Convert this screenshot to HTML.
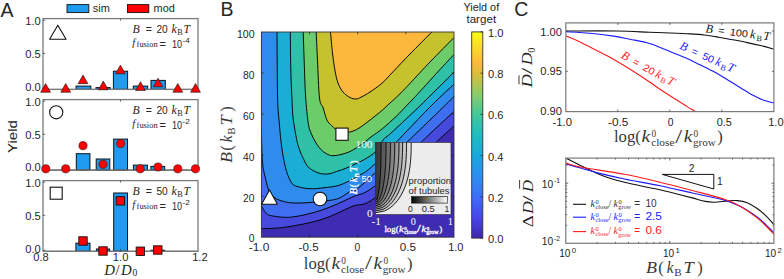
<!DOCTYPE html>
<html><head><meta charset="utf-8"><style>
html,body{margin:0;padding:0;background:#fff;width:784px;height:279px;overflow:hidden}
svg{display:block}
</style></head><body>
<svg width="784" height="279" viewBox="0 0 784 279">
<rect x="0" y="0" width="784" height="279" fill="#fff"/>
<text x="0.50" y="17.00" font-family='"Liberation Sans", sans-serif' font-size="19.50" fill="#262626" text-anchor="start" >A</text>
<rect x="67.00" y="4.60" width="21.80" height="8.00" fill="#1f9bf0" stroke="#111" stroke-width="0.90" />
<text x="92.80" y="11.90" font-family='"Liberation Sans", sans-serif' font-size="10.30" fill="#262626" text-anchor="start" textLength="17.00" lengthAdjust="spacingAndGlyphs" >sim</text>
<rect x="127.40" y="4.60" width="21.40" height="8.00" fill="#ff0000" stroke="#111" stroke-width="0.90" />
<text x="153.60" y="11.90" font-family='"Liberation Sans", sans-serif' font-size="10.30" fill="#262626" text-anchor="start" textLength="21.20" lengthAdjust="spacingAndGlyphs" >mod</text>
<rect x="76.10" y="86.10" width="14.70" height="3.30" fill="#1f9bf0" stroke="#111" stroke-width="1.00" />
<rect x="96.00" y="87.60" width="14.20" height="1.80" fill="#1f9bf0" stroke="#111" stroke-width="1.00" />
<rect x="113.40" y="71.20" width="14.20" height="18.20" fill="#1f9bf0" stroke="#111" stroke-width="1.00" />
<rect x="133.30" y="86.10" width="14.40" height="3.30" fill="#1f9bf0" stroke="#111" stroke-width="1.00" />
<rect x="151.00" y="80.40" width="14.30" height="9.00" fill="#1f9bf0" stroke="#111" stroke-width="1.00" />
<line x1="43.00" y1="89.40" x2="198.00" y2="89.40" stroke="#333" stroke-width="1.00" />
<rect x="43.00" y="18.60" width="155.00" height="70.80" fill="none" stroke="#7a7a7a" stroke-width="1.30" />
<line x1="43.00" y1="20.20" x2="45.20" y2="20.20" stroke="#444" stroke-width="0.80" />
<line x1="43.00" y1="53.40" x2="45.20" y2="53.40" stroke="#444" stroke-width="0.80" />
<line x1="43.00" y1="88.40" x2="45.20" y2="88.40" stroke="#444" stroke-width="0.80" />
<text x="25.30" y="24.50" font-family='"Liberation Sans", sans-serif' font-size="10.30" fill="#262626" text-anchor="start" textLength="15.50" lengthAdjust="spacingAndGlyphs" >1.0</text>
<text x="25.30" y="58.20" font-family='"Liberation Sans", sans-serif' font-size="10.30" fill="#262626" text-anchor="start" textLength="15.50" lengthAdjust="spacingAndGlyphs" >0.5</text>
<text x="25.30" y="90.70" font-family='"Liberation Sans", sans-serif' font-size="10.30" fill="#262626" text-anchor="start" textLength="15.50" lengthAdjust="spacingAndGlyphs" >0.0</text>
<line x1="120.50" y1="18.60" x2="120.50" y2="20.60" stroke="#444" stroke-width="0.80" />
<rect x="76.30" y="153.70" width="13.60" height="16.40" fill="#1f9bf0" stroke="#111" stroke-width="1.00" />
<rect x="96.20" y="159.00" width="13.60" height="11.10" fill="#1f9bf0" stroke="#111" stroke-width="1.00" />
<rect x="113.70" y="139.10" width="13.80" height="31.00" fill="#1f9bf0" stroke="#111" stroke-width="1.00" />
<rect x="133.40" y="165.10" width="14.00" height="5.00" fill="#1f9bf0" stroke="#111" stroke-width="1.00" />
<rect x="150.90" y="166.40" width="13.80" height="3.70" fill="#1f9bf0" stroke="#111" stroke-width="1.00" />
<line x1="43.00" y1="170.10" x2="198.00" y2="170.10" stroke="#333" stroke-width="1.00" />
<rect x="43.00" y="99.60" width="155.00" height="70.50" fill="none" stroke="#7a7a7a" stroke-width="1.30" />
<line x1="43.00" y1="101.20" x2="45.20" y2="101.20" stroke="#444" stroke-width="0.80" />
<line x1="43.00" y1="134.25" x2="45.20" y2="134.25" stroke="#444" stroke-width="0.80" />
<line x1="43.00" y1="169.10" x2="45.20" y2="169.10" stroke="#444" stroke-width="0.80" />
<text x="25.30" y="105.50" font-family='"Liberation Sans", sans-serif' font-size="10.30" fill="#262626" text-anchor="start" textLength="15.50" lengthAdjust="spacingAndGlyphs" >1.0</text>
<text x="25.30" y="139.05" font-family='"Liberation Sans", sans-serif' font-size="10.30" fill="#262626" text-anchor="start" textLength="15.50" lengthAdjust="spacingAndGlyphs" >0.5</text>
<text x="25.30" y="171.40" font-family='"Liberation Sans", sans-serif' font-size="10.30" fill="#262626" text-anchor="start" textLength="15.50" lengthAdjust="spacingAndGlyphs" >0.0</text>
<line x1="120.50" y1="99.60" x2="120.50" y2="101.60" stroke="#444" stroke-width="0.80" />
<rect x="75.90" y="243.20" width="14.10" height="8.10" fill="#1f9bf0" stroke="#111" stroke-width="1.00" />
<rect x="96.40" y="249.00" width="13.20" height="2.30" fill="#1f9bf0" stroke="#111" stroke-width="1.00" />
<rect x="113.70" y="193.00" width="13.80" height="58.30" fill="#1f9bf0" stroke="#111" stroke-width="1.00" />
<rect x="133.40" y="251.30" width="14.00" height="0.00" fill="#1f9bf0" stroke="#111" stroke-width="1.00" />
<rect x="150.90" y="250.20" width="13.80" height="1.10" fill="#1f9bf0" stroke="#111" stroke-width="1.00" />
<line x1="43.00" y1="251.30" x2="198.00" y2="251.30" stroke="#333" stroke-width="1.00" />
<rect x="43.00" y="180.60" width="155.00" height="70.70" fill="none" stroke="#7a7a7a" stroke-width="1.30" />
<line x1="43.00" y1="182.20" x2="45.20" y2="182.20" stroke="#444" stroke-width="0.80" />
<line x1="43.00" y1="215.35" x2="45.20" y2="215.35" stroke="#444" stroke-width="0.80" />
<line x1="43.00" y1="250.30" x2="45.20" y2="250.30" stroke="#444" stroke-width="0.80" />
<text x="25.30" y="186.50" font-family='"Liberation Sans", sans-serif' font-size="10.30" fill="#262626" text-anchor="start" textLength="15.50" lengthAdjust="spacingAndGlyphs" >1.0</text>
<text x="25.30" y="220.15" font-family='"Liberation Sans", sans-serif' font-size="10.30" fill="#262626" text-anchor="start" textLength="15.50" lengthAdjust="spacingAndGlyphs" >0.5</text>
<text x="25.30" y="252.60" font-family='"Liberation Sans", sans-serif' font-size="10.30" fill="#262626" text-anchor="start" textLength="15.50" lengthAdjust="spacingAndGlyphs" >0.0</text>
<line x1="120.50" y1="180.60" x2="120.50" y2="182.60" stroke="#444" stroke-width="0.80" />
<path d="M45.60,83.60 L40.70,92.20 L50.50,92.20 Z" fill="#ff0000" stroke="#222" stroke-width="0.70" stroke-linejoin="round" />
<path d="M65.70,83.60 L60.80,92.20 L70.60,92.20 Z" fill="#ff0000" stroke="#222" stroke-width="0.70" stroke-linejoin="round" />
<path d="M83.00,75.05 L78.10,83.65 L87.90,83.65 Z" fill="#ff0000" stroke="#222" stroke-width="0.70" stroke-linejoin="round" />
<path d="M103.30,81.10 L98.40,89.70 L108.20,89.70 Z" fill="#ff0000" stroke="#222" stroke-width="0.70" stroke-linejoin="round" />
<path d="M120.40,65.20 L115.50,73.80 L125.30,73.80 Z" fill="#ff0000" stroke="#222" stroke-width="0.70" stroke-linejoin="round" />
<path d="M140.50,81.80 L135.60,90.40 L145.40,90.40 Z" fill="#ff0000" stroke="#222" stroke-width="0.70" stroke-linejoin="round" />
<path d="M158.00,78.20 L153.10,86.80 L162.90,86.80 Z" fill="#ff0000" stroke="#222" stroke-width="0.70" stroke-linejoin="round" />
<path d="M177.80,83.60 L172.90,92.20 L182.70,92.20 Z" fill="#ff0000" stroke="#222" stroke-width="0.70" stroke-linejoin="round" />
<path d="M195.50,83.60 L190.60,92.20 L200.40,92.20 Z" fill="#ff0000" stroke="#222" stroke-width="0.70" stroke-linejoin="round" />
<circle cx="45.80" cy="168.80" r="4.1" fill="#ff0000" stroke="#222" stroke-width="0.6"/>
<circle cx="65.70" cy="168.80" r="4.1" fill="#ff0000" stroke="#222" stroke-width="0.6"/>
<circle cx="83.00" cy="145.70" r="4.1" fill="#ff0000" stroke="#222" stroke-width="0.6"/>
<circle cx="103.00" cy="164.30" r="4.1" fill="#ff0000" stroke="#222" stroke-width="0.6"/>
<circle cx="120.60" cy="143.60" r="4.1" fill="#ff0000" stroke="#222" stroke-width="0.6"/>
<circle cx="140.20" cy="168.80" r="4.1" fill="#ff0000" stroke="#222" stroke-width="0.6"/>
<circle cx="158.00" cy="167.00" r="4.1" fill="#ff0000" stroke="#222" stroke-width="0.6"/>
<circle cx="177.80" cy="168.80" r="4.1" fill="#ff0000" stroke="#222" stroke-width="0.6"/>
<circle cx="195.50" cy="168.80" r="4.1" fill="#ff0000" stroke="#222" stroke-width="0.6"/>
<rect x="78.80" y="236.80" width="8.40" height="8.40" fill="#ff0000" stroke="#111" stroke-width="0.90" />
<rect x="98.80" y="246.80" width="8.40" height="8.40" fill="#ff0000" stroke="#111" stroke-width="0.90" />
<rect x="116.20" y="196.65" width="8.40" height="8.40" fill="#ff0000" stroke="#111" stroke-width="0.90" />
<rect x="136.15" y="247.05" width="8.40" height="8.40" fill="#ff0000" stroke="#111" stroke-width="0.90" />
<rect x="153.60" y="245.80" width="8.40" height="8.40" fill="#ff0000" stroke="#111" stroke-width="0.90" />
<path d="M57.80,25.20 L49.60,39.30 L66.10,39.30 Z" fill="#fff" stroke="#111" stroke-width="1.10" stroke-linejoin="round" />
<circle cx="56.2" cy="112.3" r="6.6" fill="#fff" stroke="#111" stroke-width="1.1"/>
<rect x="50.20" y="187.20" width="12.00" height="12.00" fill="#fff" stroke="#111" stroke-width="1.10" />
<text x="132.50" y="33.30" font-family='"Liberation Serif", serif' font-size="11.80" fill="#262626" text-anchor="start" font-style="italic" >B</text>
<text x="145.70" y="33.10" font-family='"Liberation Sans", sans-serif' font-size="10.50" fill="#262626" text-anchor="start" >=</text>
<text x="156.40" y="33.30" font-family='"Liberation Sans", sans-serif' font-size="10.30" fill="#262626" text-anchor="start" textLength="11.30" lengthAdjust="spacingAndGlyphs" >20</text>
<text x="171.40" y="33.30" font-family='"Liberation Serif", serif' font-size="11.80" fill="#262626" text-anchor="start" font-style="italic" >k</text>
<text x="177.20" y="35.10" font-family='"Liberation Serif", serif' font-size="8.20" fill="#262626" text-anchor="start" >B</text>
<text x="183.60" y="33.30" font-family='"Liberation Serif", serif' font-size="11.80" fill="#262626" text-anchor="start" font-style="italic" >T</text>
<text x="132.30" y="45.60" font-family='"Liberation Serif", serif' font-size="10.80" fill="#262626" text-anchor="start" font-style="italic" >f</text>
<text x="136.60" y="46.50" font-family='"Liberation Serif", serif' font-size="8.60" fill="#262626" text-anchor="start" textLength="21.00" lengthAdjust="spacingAndGlyphs" >fusion</text>
<text x="159.50" y="48.10" font-family='"Liberation Sans", sans-serif' font-size="11.00" fill="#262626" text-anchor="start" >=</text>
<text x="172.00" y="47.50" font-family='"Liberation Sans", sans-serif' font-size="10.00" fill="#262626" text-anchor="start" textLength="10.10" lengthAdjust="spacingAndGlyphs" >10</text>
<text x="182.60" y="43.30" font-family='"Liberation Sans", sans-serif' font-size="6.60" fill="#262626" text-anchor="start" textLength="7.29" lengthAdjust="spacingAndGlyphs" >-4</text>
<text x="132.50" y="114.30" font-family='"Liberation Serif", serif' font-size="11.80" fill="#262626" text-anchor="start" font-style="italic" >B</text>
<text x="145.70" y="114.10" font-family='"Liberation Sans", sans-serif' font-size="10.50" fill="#262626" text-anchor="start" >=</text>
<text x="156.40" y="114.30" font-family='"Liberation Sans", sans-serif' font-size="10.30" fill="#262626" text-anchor="start" textLength="11.30" lengthAdjust="spacingAndGlyphs" >20</text>
<text x="171.40" y="114.30" font-family='"Liberation Serif", serif' font-size="11.80" fill="#262626" text-anchor="start" font-style="italic" >k</text>
<text x="177.20" y="116.10" font-family='"Liberation Serif", serif' font-size="8.20" fill="#262626" text-anchor="start" >B</text>
<text x="183.60" y="114.30" font-family='"Liberation Serif", serif' font-size="11.80" fill="#262626" text-anchor="start" font-style="italic" >T</text>
<text x="132.30" y="126.60" font-family='"Liberation Serif", serif' font-size="10.80" fill="#262626" text-anchor="start" font-style="italic" >f</text>
<text x="136.60" y="127.50" font-family='"Liberation Serif", serif' font-size="8.60" fill="#262626" text-anchor="start" textLength="21.00" lengthAdjust="spacingAndGlyphs" >fusion</text>
<text x="159.50" y="129.10" font-family='"Liberation Sans", sans-serif' font-size="11.00" fill="#262626" text-anchor="start" >=</text>
<text x="172.00" y="128.50" font-family='"Liberation Sans", sans-serif' font-size="10.00" fill="#262626" text-anchor="start" textLength="10.10" lengthAdjust="spacingAndGlyphs" >10</text>
<text x="182.60" y="124.30" font-family='"Liberation Sans", sans-serif' font-size="6.60" fill="#262626" text-anchor="start" textLength="7.29" lengthAdjust="spacingAndGlyphs" >-2</text>
<text x="132.50" y="195.30" font-family='"Liberation Serif", serif' font-size="11.80" fill="#262626" text-anchor="start" font-style="italic" >B</text>
<text x="145.70" y="195.10" font-family='"Liberation Sans", sans-serif' font-size="10.50" fill="#262626" text-anchor="start" >=</text>
<text x="156.40" y="195.30" font-family='"Liberation Sans", sans-serif' font-size="10.30" fill="#262626" text-anchor="start" textLength="11.30" lengthAdjust="spacingAndGlyphs" >50</text>
<text x="171.40" y="195.30" font-family='"Liberation Serif", serif' font-size="11.80" fill="#262626" text-anchor="start" font-style="italic" >k</text>
<text x="177.20" y="197.10" font-family='"Liberation Serif", serif' font-size="8.20" fill="#262626" text-anchor="start" >B</text>
<text x="183.60" y="195.30" font-family='"Liberation Serif", serif' font-size="11.80" fill="#262626" text-anchor="start" font-style="italic" >T</text>
<text x="132.30" y="207.60" font-family='"Liberation Serif", serif' font-size="10.80" fill="#262626" text-anchor="start" font-style="italic" >f</text>
<text x="136.60" y="208.50" font-family='"Liberation Serif", serif' font-size="8.60" fill="#262626" text-anchor="start" textLength="21.00" lengthAdjust="spacingAndGlyphs" >fusion</text>
<text x="159.50" y="210.10" font-family='"Liberation Sans", sans-serif' font-size="11.00" fill="#262626" text-anchor="start" >=</text>
<text x="172.00" y="209.50" font-family='"Liberation Sans", sans-serif' font-size="10.00" fill="#262626" text-anchor="start" textLength="10.10" lengthAdjust="spacingAndGlyphs" >10</text>
<text x="182.60" y="205.30" font-family='"Liberation Sans", sans-serif' font-size="6.60" fill="#262626" text-anchor="start" textLength="7.29" lengthAdjust="spacingAndGlyphs" >-2</text>
<text transform="translate(16.5,136.6) rotate(-90)" font-family='"Liberation Sans", sans-serif' font-size="12.8" fill="#262626" text-anchor="middle" textLength="33" lengthAdjust="spacingAndGlyphs">Yield</text>
<text x="33.25" y="260.80" font-family='"Liberation Sans", sans-serif' font-size="10.30" fill="#262626" text-anchor="start" textLength="15.50" lengthAdjust="spacingAndGlyphs" >0.8</text>
<text x="112.85" y="260.80" font-family='"Liberation Sans", sans-serif' font-size="10.30" fill="#262626" text-anchor="start" textLength="15.50" lengthAdjust="spacingAndGlyphs" >1.0</text>
<text x="192.15" y="260.80" font-family='"Liberation Sans", sans-serif' font-size="10.30" fill="#262626" text-anchor="start" textLength="15.50" lengthAdjust="spacingAndGlyphs" >1.2</text>
<line x1="120.50" y1="251.30" x2="120.50" y2="249.00" stroke="#444" stroke-width="0.80" />
<text x="104.19" y="274.50" font-family='"Liberation Serif", serif' font-size="14.80" fill="#262626" text-anchor="start" font-style="italic" >D</text>
<text x="115.50" y="274.50" font-family='"Liberation Serif", serif' font-size="14.80" fill="#262626" text-anchor="start" >/</text>
<text x="120.98" y="274.50" font-family='"Liberation Serif", serif' font-size="14.80" fill="#262626" text-anchor="start" font-style="italic" >D</text>
<text x="132.50" y="276.40" font-family='"Liberation Serif", serif' font-size="9.60" fill="#262626" text-anchor="start" >0</text>
<text x="220.60" y="16.10" font-family='"Liberation Sans", sans-serif' font-size="19.50" fill="#262626" text-anchor="start" >B</text>
<defs><clipPath id="clipB"><rect x="261.40" y="32.00" width="192.60" height="205.20"/></clipPath></defs>
<g clip-path="url(#clipB)">
<rect x="261.40" y="32.00" width="192.60" height="205.20" fill="#3e2db2" stroke="none" stroke-width="1.00" />
<path d="M261.40,228.80 C265.62,228.50 276.60,228.57 286.70,227.00 C296.80,225.43 311.12,222.82 322.00,219.40 C332.88,215.98 343.00,210.23 352.00,206.50 C361.00,202.77 361.57,208.08 376.00,197.00 C390.43,185.92 425.60,151.87 438.60,140.00 C451.60,128.13 451.43,128.17 454.00,125.80 L454.00,32.00 L261.40,32.00 Z" fill="#4649dc" stroke="none" stroke-width="1.00" stroke-linejoin="round" />
<path d="M261.40,205.90 C262.17,207.08 264.18,211.33 266.00,213.00 C267.82,214.67 267.90,215.23 272.30,215.90 C276.70,216.57 284.12,217.98 292.40,217.00 C300.68,216.02 312.07,213.30 322.00,210.00 C331.93,206.70 343.00,201.37 352.00,197.20 C361.00,193.03 363.00,195.58 376.00,185.00 C389.00,174.42 417.00,145.95 430.00,133.70 C443.00,121.45 450.00,115.20 454.00,111.50 L454.00,32.00 L261.40,32.00 Z" fill="#3f6ff0" stroke="none" stroke-width="1.00" stroke-linejoin="round" />
<path d="M261.40,128.00 C261.55,133.33 261.67,151.80 262.30,160.00 C262.93,168.20 263.77,171.47 265.20,177.20 C266.63,182.93 267.80,190.33 270.90,194.40 C274.00,198.47 278.78,200.17 283.80,201.60 C288.82,203.03 293.92,203.13 301.00,203.00 C308.08,202.87 319.92,201.62 326.30,200.80 C332.68,199.98 335.02,199.90 339.30,198.10 C343.58,196.30 348.05,192.35 352.00,190.00 C355.95,187.65 350.00,195.67 363.00,184.00 C376.00,172.33 414.83,134.58 430.00,120.00 C445.17,105.42 450.00,100.42 454.00,96.50 L454.00,32.00 L261.40,32.00 Z" fill="#2f8ced" stroke="none" stroke-width="1.00" stroke-linejoin="round" />
<path d="M277.00,32.00 C277.10,43.00 277.22,82.83 277.60,98.00 C277.98,113.17 278.60,114.67 279.30,123.00 C280.00,131.33 280.75,140.50 281.80,148.00 C282.85,155.50 284.23,162.67 285.60,168.00 C286.97,173.33 288.38,177.03 290.00,180.00 C291.62,182.97 292.03,184.35 295.30,185.80 C298.57,187.25 304.65,188.40 309.60,188.70 C314.55,189.00 319.93,188.22 325.00,187.60 C330.07,186.98 334.50,186.93 340.00,185.00 C345.50,183.07 352.03,179.67 358.00,176.00 C363.97,172.33 363.80,174.50 375.80,163.00 C387.80,151.50 416.97,120.12 430.00,107.00 C443.03,93.88 450.00,88.08 454.00,84.30 L454.00,32.00 L261.40,32.00 Z" fill="#1aaed6" stroke="none" stroke-width="1.00" stroke-linejoin="round" />
<path d="M290.30,32.00 C290.38,38.33 290.53,59.00 290.80,70.00 C291.07,81.00 291.52,90.00 291.90,98.00 C292.28,106.00 292.27,110.90 293.10,118.00 C293.93,125.10 295.75,135.10 296.90,140.60 C298.05,146.10 298.95,148.07 300.00,151.00 C301.05,153.93 301.83,155.53 303.20,158.20 C304.57,160.87 305.70,164.55 308.20,167.00 C310.70,169.45 314.90,171.73 318.20,172.90 C321.50,174.07 324.95,174.23 328.00,174.00 C331.05,173.77 333.42,172.50 336.50,171.50 C339.58,170.50 343.42,169.25 346.50,168.00 C349.58,166.75 352.03,165.42 355.00,164.00 C357.97,162.58 360.83,161.58 364.30,159.50 C367.77,157.42 372.68,154.75 375.80,151.50 C378.92,148.25 380.63,142.92 383.00,140.00 C385.37,137.08 386.33,137.33 390.00,134.00 C393.67,130.67 400.00,124.70 405.00,120.00 C410.00,115.30 411.83,113.77 420.00,105.80 C428.17,97.83 448.33,77.80 454.00,72.20 L454.00,32.00 L261.40,32.00 Z" fill="#2fc0a8" stroke="none" stroke-width="1.00" stroke-linejoin="round" />
<path d="M303.20,32.00 C303.42,38.33 304.08,59.00 304.50,70.00 C304.92,81.00 305.08,89.17 305.70,98.00 C306.32,106.83 307.32,117.17 308.20,123.00 C309.08,128.83 309.70,129.67 311.00,133.00 C312.30,136.33 314.17,140.08 316.00,143.00 C317.83,145.92 320.00,148.58 322.00,150.50 C324.00,152.42 326.17,153.63 328.00,154.50 C329.83,155.37 330.67,155.73 333.00,155.70 C335.33,155.67 339.17,155.00 342.00,154.30 C344.83,153.60 347.50,152.63 350.00,151.50 C352.50,150.37 354.67,149.00 357.00,147.50 C359.33,146.00 361.50,144.38 364.00,142.50 C366.50,140.62 368.95,138.48 372.00,136.20 C375.05,133.92 378.18,132.18 382.30,128.80 C386.42,125.42 392.92,119.48 396.70,115.90 C400.48,112.32 402.28,110.12 405.00,107.30 C407.72,104.48 410.50,101.63 413.00,99.00 C415.50,96.37 415.73,96.17 420.00,91.50 C424.27,86.83 432.93,77.17 438.60,71.00 C444.27,64.83 451.43,57.25 454.00,54.50 L454.00,32.00 L261.40,32.00 Z" fill="#6ccc6a" stroke="none" stroke-width="1.00" stroke-linejoin="round" />
<path d="M316.20,32.00 C316.42,36.67 316.95,49.00 317.50,60.00 C318.05,71.00 318.55,90.00 319.50,98.00 C320.45,106.00 321.97,104.33 323.20,108.00 C324.43,111.67 325.53,117.10 326.90,120.00 C328.27,122.90 329.88,123.82 331.40,125.40 C332.92,126.98 334.23,128.30 336.00,129.50 C337.77,130.70 340.00,132.15 342.00,132.60 C344.00,133.05 346.17,132.43 348.00,132.20 C349.83,131.97 351.00,131.98 353.00,131.20 C355.00,130.42 357.50,129.10 360.00,127.50 C362.50,125.90 365.33,123.63 368.00,121.60 C370.67,119.57 373.62,117.20 376.00,115.30 C378.38,113.40 379.97,112.25 382.30,110.20 C384.63,108.15 387.60,105.20 390.00,103.00 C392.40,100.80 394.20,99.38 396.70,97.00 C399.20,94.62 402.65,91.12 405.00,88.70 C407.35,86.28 406.63,86.95 410.80,82.50 C414.97,78.05 422.80,69.50 430.00,62.00 C437.20,54.50 450.00,41.58 454.00,37.50 L454.00,32.00 L261.40,32.00 Z" fill="#c6c22e" stroke="none" stroke-width="1.00" stroke-linejoin="round" />
<path d="M330.50,32.00 C330.83,35.50 331.75,46.57 332.50,53.00 C333.25,59.43 334.08,65.60 335.00,70.60 C335.92,75.60 336.67,79.43 338.00,83.00 C339.33,86.57 341.00,89.58 343.00,92.00 C345.00,94.42 347.83,96.33 350.00,97.50 C352.17,98.67 354.17,99.05 356.00,99.00 C357.83,98.95 358.67,98.37 361.00,97.20 C363.33,96.03 366.50,94.33 370.00,92.00 C373.50,89.67 378.17,86.57 382.00,83.20 C385.83,79.83 388.33,76.67 393.00,71.80 C397.67,66.93 403.53,60.63 410.00,54.00 C416.47,47.37 428.17,35.67 431.80,32.00 Z" fill="#fcb83c" stroke="none" stroke-width="1.00" stroke-linejoin="round" />
<path d="M261.40,228.80 C265.62,228.50 276.60,228.57 286.70,227.00 C296.80,225.43 311.12,222.82 322.00,219.40 C332.88,215.98 343.00,210.23 352.00,206.50 C361.00,202.77 361.57,208.08 376.00,197.00 C390.43,185.92 425.60,151.87 438.60,140.00 C451.60,128.13 451.43,128.17 454.00,125.80" fill="none" stroke="#000" stroke-width="0.95" stroke-linejoin="round" />
<path d="M261.40,205.90 C262.17,207.08 264.18,211.33 266.00,213.00 C267.82,214.67 267.90,215.23 272.30,215.90 C276.70,216.57 284.12,217.98 292.40,217.00 C300.68,216.02 312.07,213.30 322.00,210.00 C331.93,206.70 343.00,201.37 352.00,197.20 C361.00,193.03 363.00,195.58 376.00,185.00 C389.00,174.42 417.00,145.95 430.00,133.70 C443.00,121.45 450.00,115.20 454.00,111.50" fill="none" stroke="#000" stroke-width="0.95" stroke-linejoin="round" />
<path d="M261.40,128.00 C261.55,133.33 261.67,151.80 262.30,160.00 C262.93,168.20 263.77,171.47 265.20,177.20 C266.63,182.93 267.80,190.33 270.90,194.40 C274.00,198.47 278.78,200.17 283.80,201.60 C288.82,203.03 293.92,203.13 301.00,203.00 C308.08,202.87 319.92,201.62 326.30,200.80 C332.68,199.98 335.02,199.90 339.30,198.10 C343.58,196.30 348.05,192.35 352.00,190.00 C355.95,187.65 350.00,195.67 363.00,184.00 C376.00,172.33 414.83,134.58 430.00,120.00 C445.17,105.42 450.00,100.42 454.00,96.50" fill="none" stroke="#000" stroke-width="0.95" stroke-linejoin="round" />
<path d="M277.00,32.00 C277.10,43.00 277.22,82.83 277.60,98.00 C277.98,113.17 278.60,114.67 279.30,123.00 C280.00,131.33 280.75,140.50 281.80,148.00 C282.85,155.50 284.23,162.67 285.60,168.00 C286.97,173.33 288.38,177.03 290.00,180.00 C291.62,182.97 292.03,184.35 295.30,185.80 C298.57,187.25 304.65,188.40 309.60,188.70 C314.55,189.00 319.93,188.22 325.00,187.60 C330.07,186.98 334.50,186.93 340.00,185.00 C345.50,183.07 352.03,179.67 358.00,176.00 C363.97,172.33 363.80,174.50 375.80,163.00 C387.80,151.50 416.97,120.12 430.00,107.00 C443.03,93.88 450.00,88.08 454.00,84.30" fill="none" stroke="#000" stroke-width="0.95" stroke-linejoin="round" />
<path d="M290.30,32.00 C290.38,38.33 290.53,59.00 290.80,70.00 C291.07,81.00 291.52,90.00 291.90,98.00 C292.28,106.00 292.27,110.90 293.10,118.00 C293.93,125.10 295.75,135.10 296.90,140.60 C298.05,146.10 298.95,148.07 300.00,151.00 C301.05,153.93 301.83,155.53 303.20,158.20 C304.57,160.87 305.70,164.55 308.20,167.00 C310.70,169.45 314.90,171.73 318.20,172.90 C321.50,174.07 324.95,174.23 328.00,174.00 C331.05,173.77 333.42,172.50 336.50,171.50 C339.58,170.50 343.42,169.25 346.50,168.00 C349.58,166.75 352.03,165.42 355.00,164.00 C357.97,162.58 360.83,161.58 364.30,159.50 C367.77,157.42 372.68,154.75 375.80,151.50 C378.92,148.25 380.63,142.92 383.00,140.00 C385.37,137.08 386.33,137.33 390.00,134.00 C393.67,130.67 400.00,124.70 405.00,120.00 C410.00,115.30 411.83,113.77 420.00,105.80 C428.17,97.83 448.33,77.80 454.00,72.20" fill="none" stroke="#000" stroke-width="0.95" stroke-linejoin="round" />
<path d="M303.20,32.00 C303.42,38.33 304.08,59.00 304.50,70.00 C304.92,81.00 305.08,89.17 305.70,98.00 C306.32,106.83 307.32,117.17 308.20,123.00 C309.08,128.83 309.70,129.67 311.00,133.00 C312.30,136.33 314.17,140.08 316.00,143.00 C317.83,145.92 320.00,148.58 322.00,150.50 C324.00,152.42 326.17,153.63 328.00,154.50 C329.83,155.37 330.67,155.73 333.00,155.70 C335.33,155.67 339.17,155.00 342.00,154.30 C344.83,153.60 347.50,152.63 350.00,151.50 C352.50,150.37 354.67,149.00 357.00,147.50 C359.33,146.00 361.50,144.38 364.00,142.50 C366.50,140.62 368.95,138.48 372.00,136.20 C375.05,133.92 378.18,132.18 382.30,128.80 C386.42,125.42 392.92,119.48 396.70,115.90 C400.48,112.32 402.28,110.12 405.00,107.30 C407.72,104.48 410.50,101.63 413.00,99.00 C415.50,96.37 415.73,96.17 420.00,91.50 C424.27,86.83 432.93,77.17 438.60,71.00 C444.27,64.83 451.43,57.25 454.00,54.50" fill="none" stroke="#000" stroke-width="0.95" stroke-linejoin="round" />
<path d="M316.20,32.00 C316.42,36.67 316.95,49.00 317.50,60.00 C318.05,71.00 318.55,90.00 319.50,98.00 C320.45,106.00 321.97,104.33 323.20,108.00 C324.43,111.67 325.53,117.10 326.90,120.00 C328.27,122.90 329.88,123.82 331.40,125.40 C332.92,126.98 334.23,128.30 336.00,129.50 C337.77,130.70 340.00,132.15 342.00,132.60 C344.00,133.05 346.17,132.43 348.00,132.20 C349.83,131.97 351.00,131.98 353.00,131.20 C355.00,130.42 357.50,129.10 360.00,127.50 C362.50,125.90 365.33,123.63 368.00,121.60 C370.67,119.57 373.62,117.20 376.00,115.30 C378.38,113.40 379.97,112.25 382.30,110.20 C384.63,108.15 387.60,105.20 390.00,103.00 C392.40,100.80 394.20,99.38 396.70,97.00 C399.20,94.62 402.65,91.12 405.00,88.70 C407.35,86.28 406.63,86.95 410.80,82.50 C414.97,78.05 422.80,69.50 430.00,62.00 C437.20,54.50 450.00,41.58 454.00,37.50" fill="none" stroke="#000" stroke-width="0.95" stroke-linejoin="round" />
<path d="M330.50,32.00 C330.83,35.50 331.75,46.57 332.50,53.00 C333.25,59.43 334.08,65.60 335.00,70.60 C335.92,75.60 336.67,79.43 338.00,83.00 C339.33,86.57 341.00,89.58 343.00,92.00 C345.00,94.42 347.83,96.33 350.00,97.50 C352.17,98.67 354.17,99.05 356.00,99.00 C357.83,98.95 358.67,98.37 361.00,97.20 C363.33,96.03 366.50,94.33 370.00,92.00 C373.50,89.67 378.17,86.57 382.00,83.20 C385.83,79.83 388.33,76.67 393.00,71.80 C397.67,66.93 403.53,60.63 410.00,54.00 C416.47,47.37 428.17,35.67 431.80,32.00" fill="none" stroke="#000" stroke-width="0.95" stroke-linejoin="round" />
</g>
<rect x="261.40" y="32.00" width="192.60" height="205.20" fill="none" stroke="#333" stroke-width="0.90" />
<line x1="309.55" y1="32.00" x2="309.55" y2="34.20" stroke="#222" stroke-width="0.80" />
<line x1="309.55" y1="237.20" x2="309.55" y2="235.00" stroke="#222" stroke-width="0.80" />
<line x1="357.70" y1="32.00" x2="357.70" y2="34.20" stroke="#222" stroke-width="0.80" />
<line x1="357.70" y1="237.20" x2="357.70" y2="235.00" stroke="#222" stroke-width="0.80" />
<line x1="405.85" y1="32.00" x2="405.85" y2="34.20" stroke="#222" stroke-width="0.80" />
<line x1="405.85" y1="237.20" x2="405.85" y2="235.00" stroke="#222" stroke-width="0.80" />
<line x1="261.40" y1="196.16" x2="263.60" y2="196.16" stroke="#222" stroke-width="0.80" />
<line x1="454.00" y1="196.16" x2="451.80" y2="196.16" stroke="#222" stroke-width="0.80" />
<line x1="261.40" y1="155.12" x2="263.60" y2="155.12" stroke="#222" stroke-width="0.80" />
<line x1="454.00" y1="155.12" x2="451.80" y2="155.12" stroke="#222" stroke-width="0.80" />
<line x1="261.40" y1="114.08" x2="263.60" y2="114.08" stroke="#222" stroke-width="0.80" />
<line x1="454.00" y1="114.08" x2="451.80" y2="114.08" stroke="#222" stroke-width="0.80" />
<line x1="261.40" y1="73.04" x2="263.60" y2="73.04" stroke="#222" stroke-width="0.80" />
<line x1="454.00" y1="73.04" x2="451.80" y2="73.04" stroke="#222" stroke-width="0.80" />
<rect x="335.90" y="128.10" width="12.20" height="12.20" fill="#fff" stroke="#111" stroke-width="1.10" />
<path d="M269.50,190.00 L261.60,204.30 L277.40,204.30 Z" fill="#fff" stroke="#111" stroke-width="1.10" stroke-linejoin="round" />
<circle cx="320" cy="199" r="6.8" fill="#fff" stroke="#111" stroke-width="1.1"/>
<defs><linearGradient id="gbar" x1="0" y1="0" x2="1" y2="0"><stop offset="0" stop-color="#000"/><stop offset="1" stop-color="#fff"/></linearGradient></defs>
<rect x="375.50" y="142.40" width="75.50" height="72.20" fill="#ececec" stroke="none" stroke-width="1.00" />
<defs>
<linearGradient id="ig0" gradientUnits="userSpaceOnUse" x1="375.50" y1="0" x2="381.00" y2="0"><stop offset="0" stop-color="#363636"/><stop offset="1" stop-color="#444444"/></linearGradient>
<linearGradient id="ig1" gradientUnits="userSpaceOnUse" x1="381.00" y1="0" x2="386.00" y2="0"><stop offset="0" stop-color="#545454"/><stop offset="1" stop-color="#626262"/></linearGradient>
<linearGradient id="ig2" gradientUnits="userSpaceOnUse" x1="386.00" y1="0" x2="390.40" y2="0"><stop offset="0" stop-color="#6a6a6a"/><stop offset="1" stop-color="#787878"/></linearGradient>
<linearGradient id="ig3" gradientUnits="userSpaceOnUse" x1="390.40" y1="0" x2="394.70" y2="0"><stop offset="0" stop-color="#7f7f7f"/><stop offset="1" stop-color="#8d8d8d"/></linearGradient>
<linearGradient id="ig4" gradientUnits="userSpaceOnUse" x1="394.70" y1="0" x2="399.00" y2="0"><stop offset="0" stop-color="#949494"/><stop offset="1" stop-color="#a2a2a2"/></linearGradient>
<linearGradient id="ig5" gradientUnits="userSpaceOnUse" x1="399.00" y1="0" x2="402.60" y2="0"><stop offset="0" stop-color="#aaaaaa"/><stop offset="1" stop-color="#b8b8b8"/></linearGradient>
<linearGradient id="ig6" gradientUnits="userSpaceOnUse" x1="402.60" y1="0" x2="406.50" y2="0"><stop offset="0" stop-color="#c0c0c0"/><stop offset="1" stop-color="#cecece"/></linearGradient>
<linearGradient id="ig7" gradientUnits="userSpaceOnUse" x1="406.50" y1="0" x2="411.20" y2="0"><stop offset="0" stop-color="#d4d4d4"/><stop offset="1" stop-color="#e2e2e2"/></linearGradient>
</defs>
<path d="M411.20,142.40 L411.20,144.16 L411.19,145.92 L411.17,147.68 L411.14,149.44 L411.10,151.19 L411.04,152.95 L410.97,154.71 L410.88,156.47 L410.77,158.23 L410.64,159.99 L410.48,161.75 L410.31,163.50 L410.11,165.26 L409.88,167.02 L409.63,168.78 L409.35,170.54 L409.03,172.30 L408.69,174.06 L408.31,175.82 L407.89,177.57 L407.44,179.33 L406.94,181.09 L406.40,182.85 L405.82,184.61 L405.18,186.37 L404.49,188.13 L403.74,189.89 L402.92,191.64 L402.03,193.40 L401.07,195.16 L400.01,196.92 L398.84,198.68 L397.56,200.44 L396.13,202.20 L394.52,203.96 L392.68,205.72 L390.52,207.47 L387.88,209.23 L384.34,210.99 L375.50,212.75 L375.50,214.60 L375.50,142.40 Z" fill="url(#ig7)" stroke="none" stroke-width="1.00" stroke-linejoin="round" />
<path d="M406.50,142.40 L406.50,144.12 L406.49,145.83 L406.48,147.55 L406.45,149.26 L406.41,150.97 L406.36,152.69 L406.30,154.41 L406.22,156.12 L406.13,157.84 L406.01,159.55 L405.88,161.27 L405.73,162.98 L405.55,164.69 L405.36,166.41 L405.14,168.12 L404.89,169.84 L404.62,171.56 L404.32,173.27 L403.99,174.99 L403.63,176.70 L403.23,178.42 L402.80,180.13 L402.33,181.84 L401.83,183.56 L401.27,185.28 L400.67,186.99 L400.02,188.71 L399.31,190.42 L398.54,192.13 L397.70,193.85 L396.78,195.56 L395.77,197.28 L394.65,199.00 L393.41,200.71 L392.02,202.43 L390.42,204.14 L388.55,205.86 L386.25,207.57 L383.18,209.28 L375.50,211.00 L375.50,214.60 L375.50,142.40 Z" fill="url(#ig6)" stroke="none" stroke-width="1.00" stroke-linejoin="round" />
<path d="M402.60,142.40 L402.60,144.07 L402.59,145.74 L402.58,147.41 L402.56,149.09 L402.53,150.76 L402.48,152.43 L402.43,154.10 L402.36,155.77 L402.27,157.44 L402.17,159.11 L402.06,160.78 L401.92,162.46 L401.77,164.13 L401.60,165.80 L401.41,167.47 L401.19,169.14 L400.95,170.81 L400.69,172.48 L400.40,174.15 L400.09,175.82 L399.74,177.50 L399.37,179.17 L398.96,180.84 L398.51,182.51 L398.03,184.18 L397.51,185.85 L396.94,187.52 L396.32,189.19 L395.64,190.87 L394.91,192.54 L394.10,194.21 L393.22,195.88 L392.24,197.55 L391.16,199.22 L389.94,200.89 L388.54,202.56 L386.90,204.24 L384.90,205.91 L382.21,207.58 L375.50,209.25 L375.50,214.60 L375.50,142.40 Z" fill="url(#ig5)" stroke="none" stroke-width="1.00" stroke-linejoin="round" />
<path d="M399.00,142.40 L399.00,144.03 L398.99,145.66 L398.98,147.28 L398.96,148.91 L398.93,150.54 L398.90,152.16 L398.85,153.79 L398.79,155.42 L398.72,157.05 L398.63,158.68 L398.53,160.30 L398.41,161.93 L398.28,163.56 L398.13,165.19 L397.97,166.81 L397.78,168.44 L397.57,170.07 L397.35,171.69 L397.10,173.32 L396.82,174.95 L396.52,176.58 L396.20,178.21 L395.84,179.83 L395.46,181.46 L395.04,183.09 L394.58,184.72 L394.09,186.34 L393.55,187.97 L392.97,189.60 L392.33,191.22 L391.63,192.85 L390.87,194.48 L390.02,196.11 L389.08,197.74 L388.02,199.36 L386.81,200.99 L385.39,202.62 L383.65,204.25 L381.32,205.87 L375.50,207.50 L375.50,214.60 L375.50,142.40 Z" fill="url(#ig4)" stroke="none" stroke-width="1.00" stroke-linejoin="round" />
<path d="M394.70,142.40 L394.70,143.98 L394.69,145.57 L394.69,147.15 L394.67,148.74 L394.65,150.32 L394.62,151.90 L394.58,153.49 L394.53,155.07 L394.47,156.65 L394.40,158.24 L394.32,159.82 L394.22,161.41 L394.11,162.99 L393.99,164.57 L393.85,166.16 L393.70,167.74 L393.53,169.32 L393.35,170.91 L393.14,172.49 L392.92,174.07 L392.68,175.66 L392.41,177.24 L392.12,178.83 L391.80,180.41 L391.46,181.99 L391.09,183.58 L390.69,185.16 L390.25,186.75 L389.77,188.33 L389.25,189.91 L388.68,191.50 L388.05,193.08 L387.36,194.66 L386.59,196.25 L385.73,197.83 L384.74,199.41 L383.58,201.00 L382.16,202.58 L380.25,204.17 L375.50,205.75 L375.50,214.60 L375.50,142.40 Z" fill="url(#ig3)" stroke="none" stroke-width="1.00" stroke-linejoin="round" />
<path d="M390.40,142.40 L390.40,143.94 L390.40,145.48 L390.39,147.02 L390.38,148.56 L390.36,150.10 L390.33,151.64 L390.30,153.18 L390.27,154.72 L390.22,156.26 L390.17,157.80 L390.10,159.34 L390.03,160.88 L389.94,162.42 L389.85,163.96 L389.74,165.50 L389.63,167.04 L389.50,168.58 L389.35,170.12 L389.19,171.66 L389.02,173.20 L388.83,174.74 L388.62,176.28 L388.40,177.82 L388.15,179.36 L387.89,180.90 L387.60,182.44 L387.29,183.98 L386.95,185.52 L386.57,187.06 L386.17,188.60 L385.73,190.14 L385.24,191.68 L384.71,193.22 L384.11,194.76 L383.44,196.30 L382.67,197.84 L381.77,199.38 L380.67,200.92 L379.19,202.46 L375.50,204.00 L375.50,214.60 L375.50,142.40 Z" fill="url(#ig2)" stroke="none" stroke-width="1.00" stroke-linejoin="round" />
<path d="M386.00,142.40 L386.00,143.90 L386.00,145.39 L385.99,146.89 L385.98,148.38 L385.97,149.88 L385.95,151.38 L385.93,152.87 L385.91,154.37 L385.87,155.87 L385.83,157.36 L385.79,158.86 L385.74,160.36 L385.68,161.85 L385.61,163.35 L385.54,164.84 L385.45,166.34 L385.36,167.84 L385.26,169.33 L385.15,170.83 L385.03,172.32 L384.89,173.82 L384.75,175.32 L384.59,176.81 L384.42,178.31 L384.23,179.81 L384.03,181.30 L383.81,182.80 L383.57,184.30 L383.30,185.79 L383.02,187.29 L382.71,188.78 L382.37,190.28 L381.99,191.78 L381.57,193.27 L381.09,194.77 L380.55,196.26 L379.92,197.76 L379.14,199.26 L378.10,200.75 L375.50,202.25 L375.50,214.60 L375.50,142.40 Z" fill="url(#ig1)" stroke="none" stroke-width="1.00" stroke-linejoin="round" />
<path d="M381.00,142.40 L381.00,143.85 L381.00,145.31 L381.00,146.76 L380.99,148.21 L380.98,149.66 L380.98,151.12 L380.96,152.57 L380.95,154.02 L380.93,155.47 L380.91,156.93 L380.89,158.38 L380.86,159.83 L380.83,161.28 L380.80,162.74 L380.76,164.19 L380.71,165.64 L380.67,167.09 L380.61,168.55 L380.55,170.00 L380.49,171.45 L380.42,172.90 L380.34,174.36 L380.26,175.81 L380.17,177.26 L380.07,178.71 L379.97,180.17 L379.85,181.62 L379.72,183.07 L379.59,184.52 L379.44,185.97 L379.28,187.43 L379.10,188.88 L378.90,190.33 L378.68,191.78 L378.43,193.24 L378.15,194.69 L377.81,196.14 L377.41,197.59 L376.86,199.05 L375.50,200.50 L375.50,214.60 L375.50,142.40 Z" fill="url(#ig0)" stroke="none" stroke-width="1.00" stroke-linejoin="round" />
<path d="M381.00,142.40 L381.00,143.85 L381.00,145.31 L381.00,146.76 L380.99,148.21 L380.98,149.66 L380.98,151.12 L380.96,152.57 L380.95,154.02 L380.93,155.47 L380.91,156.93 L380.89,158.38 L380.86,159.83 L380.83,161.28 L380.80,162.74 L380.76,164.19 L380.71,165.64 L380.67,167.09 L380.61,168.55 L380.55,170.00 L380.49,171.45 L380.42,172.90 L380.34,174.36 L380.26,175.81 L380.17,177.26 L380.07,178.71 L379.97,180.17 L379.85,181.62 L379.72,183.07 L379.59,184.52 L379.44,185.97 L379.28,187.43 L379.10,188.88 L378.90,190.33 L378.68,191.78 L378.43,193.24 L378.15,194.69 L377.81,196.14 L377.41,197.59 L376.86,199.05 L375.50,200.50" fill="none" stroke="#000" stroke-width="0.90" stroke-linejoin="round" />
<path d="M386.00,142.40 L386.00,143.90 L386.00,145.39 L385.99,146.89 L385.98,148.38 L385.97,149.88 L385.95,151.38 L385.93,152.87 L385.91,154.37 L385.87,155.87 L385.83,157.36 L385.79,158.86 L385.74,160.36 L385.68,161.85 L385.61,163.35 L385.54,164.84 L385.45,166.34 L385.36,167.84 L385.26,169.33 L385.15,170.83 L385.03,172.32 L384.89,173.82 L384.75,175.32 L384.59,176.81 L384.42,178.31 L384.23,179.81 L384.03,181.30 L383.81,182.80 L383.57,184.30 L383.30,185.79 L383.02,187.29 L382.71,188.78 L382.37,190.28 L381.99,191.78 L381.57,193.27 L381.09,194.77 L380.55,196.26 L379.92,197.76 L379.14,199.26 L378.10,200.75 L375.50,202.25" fill="none" stroke="#000" stroke-width="0.90" stroke-linejoin="round" />
<path d="M390.40,142.40 L390.40,143.94 L390.40,145.48 L390.39,147.02 L390.38,148.56 L390.36,150.10 L390.33,151.64 L390.30,153.18 L390.27,154.72 L390.22,156.26 L390.17,157.80 L390.10,159.34 L390.03,160.88 L389.94,162.42 L389.85,163.96 L389.74,165.50 L389.63,167.04 L389.50,168.58 L389.35,170.12 L389.19,171.66 L389.02,173.20 L388.83,174.74 L388.62,176.28 L388.40,177.82 L388.15,179.36 L387.89,180.90 L387.60,182.44 L387.29,183.98 L386.95,185.52 L386.57,187.06 L386.17,188.60 L385.73,190.14 L385.24,191.68 L384.71,193.22 L384.11,194.76 L383.44,196.30 L382.67,197.84 L381.77,199.38 L380.67,200.92 L379.19,202.46 L375.50,204.00" fill="none" stroke="#000" stroke-width="0.90" stroke-linejoin="round" />
<path d="M394.70,142.40 L394.70,143.98 L394.69,145.57 L394.69,147.15 L394.67,148.74 L394.65,150.32 L394.62,151.90 L394.58,153.49 L394.53,155.07 L394.47,156.65 L394.40,158.24 L394.32,159.82 L394.22,161.41 L394.11,162.99 L393.99,164.57 L393.85,166.16 L393.70,167.74 L393.53,169.32 L393.35,170.91 L393.14,172.49 L392.92,174.07 L392.68,175.66 L392.41,177.24 L392.12,178.83 L391.80,180.41 L391.46,181.99 L391.09,183.58 L390.69,185.16 L390.25,186.75 L389.77,188.33 L389.25,189.91 L388.68,191.50 L388.05,193.08 L387.36,194.66 L386.59,196.25 L385.73,197.83 L384.74,199.41 L383.58,201.00 L382.16,202.58 L380.25,204.17 L375.50,205.75" fill="none" stroke="#000" stroke-width="0.90" stroke-linejoin="round" />
<path d="M399.00,142.40 L399.00,144.03 L398.99,145.66 L398.98,147.28 L398.96,148.91 L398.93,150.54 L398.90,152.16 L398.85,153.79 L398.79,155.42 L398.72,157.05 L398.63,158.68 L398.53,160.30 L398.41,161.93 L398.28,163.56 L398.13,165.19 L397.97,166.81 L397.78,168.44 L397.57,170.07 L397.35,171.69 L397.10,173.32 L396.82,174.95 L396.52,176.58 L396.20,178.21 L395.84,179.83 L395.46,181.46 L395.04,183.09 L394.58,184.72 L394.09,186.34 L393.55,187.97 L392.97,189.60 L392.33,191.22 L391.63,192.85 L390.87,194.48 L390.02,196.11 L389.08,197.74 L388.02,199.36 L386.81,200.99 L385.39,202.62 L383.65,204.25 L381.32,205.87 L375.50,207.50" fill="none" stroke="#000" stroke-width="0.90" stroke-linejoin="round" />
<path d="M402.60,142.40 L402.60,144.07 L402.59,145.74 L402.58,147.41 L402.56,149.09 L402.53,150.76 L402.48,152.43 L402.43,154.10 L402.36,155.77 L402.27,157.44 L402.17,159.11 L402.06,160.78 L401.92,162.46 L401.77,164.13 L401.60,165.80 L401.41,167.47 L401.19,169.14 L400.95,170.81 L400.69,172.48 L400.40,174.15 L400.09,175.82 L399.74,177.50 L399.37,179.17 L398.96,180.84 L398.51,182.51 L398.03,184.18 L397.51,185.85 L396.94,187.52 L396.32,189.19 L395.64,190.87 L394.91,192.54 L394.10,194.21 L393.22,195.88 L392.24,197.55 L391.16,199.22 L389.94,200.89 L388.54,202.56 L386.90,204.24 L384.90,205.91 L382.21,207.58 L375.50,209.25" fill="none" stroke="#000" stroke-width="0.90" stroke-linejoin="round" />
<path d="M406.50,142.40 L406.50,144.12 L406.49,145.83 L406.48,147.55 L406.45,149.26 L406.41,150.97 L406.36,152.69 L406.30,154.41 L406.22,156.12 L406.13,157.84 L406.01,159.55 L405.88,161.27 L405.73,162.98 L405.55,164.69 L405.36,166.41 L405.14,168.12 L404.89,169.84 L404.62,171.56 L404.32,173.27 L403.99,174.99 L403.63,176.70 L403.23,178.42 L402.80,180.13 L402.33,181.84 L401.83,183.56 L401.27,185.28 L400.67,186.99 L400.02,188.71 L399.31,190.42 L398.54,192.13 L397.70,193.85 L396.78,195.56 L395.77,197.28 L394.65,199.00 L393.41,200.71 L392.02,202.43 L390.42,204.14 L388.55,205.86 L386.25,207.57 L383.18,209.28 L375.50,211.00" fill="none" stroke="#000" stroke-width="0.90" stroke-linejoin="round" />
<path d="M411.20,142.40 L411.20,144.16 L411.19,145.92 L411.17,147.68 L411.14,149.44 L411.10,151.19 L411.04,152.95 L410.97,154.71 L410.88,156.47 L410.77,158.23 L410.64,159.99 L410.48,161.75 L410.31,163.50 L410.11,165.26 L409.88,167.02 L409.63,168.78 L409.35,170.54 L409.03,172.30 L408.69,174.06 L408.31,175.82 L407.89,177.57 L407.44,179.33 L406.94,181.09 L406.40,182.85 L405.82,184.61 L405.18,186.37 L404.49,188.13 L403.74,189.89 L402.92,191.64 L402.03,193.40 L401.07,195.16 L400.01,196.92 L398.84,198.68 L397.56,200.44 L396.13,202.20 L394.52,203.96 L392.68,205.72 L390.52,207.47 L387.88,209.23 L384.34,210.99 L375.50,212.75" fill="none" stroke="#000" stroke-width="0.90" stroke-linejoin="round" />
<rect x="375.50" y="142.40" width="75.50" height="72.20" fill="none" stroke="#222" stroke-width="0.60" />
<text x="408.50" y="184.20" font-family='"Liberation Sans", sans-serif' font-size="9.00" fill="#262626" text-anchor="start" textLength="42.51" lengthAdjust="spacingAndGlyphs" >proportion</text>
<text x="408.50" y="194.20" font-family='"Liberation Sans", sans-serif' font-size="9.00" fill="#262626" text-anchor="start" textLength="40.99" lengthAdjust="spacingAndGlyphs" >of tubules</text>
<rect x="411.50" y="196.60" width="35.80" height="6.50" fill="url(#gbar)" stroke="#222" stroke-width="0.70" />
<text x="408.01" y="211.60" font-family='"Liberation Sans", sans-serif' font-size="8.60" fill="#262626" text-anchor="start" >0</text>
<text x="421.80" y="211.60" font-family='"Liberation Sans", sans-serif' font-size="8.60" fill="#262626" text-anchor="start" textLength="13.00" lengthAdjust="spacingAndGlyphs" >0.5</text>
<text x="444.51" y="211.60" font-family='"Liberation Sans", sans-serif' font-size="8.60" fill="#262626" text-anchor="start" >1</text>
<text x="355.50" y="147.80" font-family='"Liberation Serif", serif' font-size="10.00" fill="#ffffff" text-anchor="start" textLength="16.90" lengthAdjust="spacingAndGlyphs" >100</text>
<text x="361.50" y="181.60" font-family='"Liberation Sans", sans-serif' font-size="9.40" fill="#ffffff" text-anchor="start" textLength="10.50" lengthAdjust="spacingAndGlyphs" >50</text>
<text x="367.10" y="216.70" font-family='"Liberation Serif", serif' font-size="10.40" fill="#ffffff" text-anchor="start" textLength="5.60" lengthAdjust="spacingAndGlyphs" >0</text>
<text x="371.50" y="224.90" font-family='"Liberation Serif", serif' font-size="10.40" fill="#ffffff" text-anchor="start" textLength="9.41" lengthAdjust="spacingAndGlyphs" >-1</text>
<text x="410.75" y="224.90" font-family='"Liberation Serif", serif' font-size="10.40" fill="#ffffff" text-anchor="start" textLength="5.10" lengthAdjust="spacingAndGlyphs" >0</text>
<text x="447.80" y="224.90" font-family='"Liberation Serif", serif' font-size="10.40" fill="#ffffff" text-anchor="start" >1</text>
<g stroke="#fff" stroke-width="0.3">
<text x="384.40" y="232.10" font-family='"Liberation Serif", serif' font-size="8.78" fill="#ffffff" text-anchor="start" textLength="14.27" lengthAdjust="spacingAndGlyphs" >log(</text>
<text x="399.08" y="232.10" font-family='"Liberation Serif", serif' font-size="8.78" fill="#ffffff" text-anchor="start" font-style="italic" textLength="4.62" lengthAdjust="spacingAndGlyphs" >k</text>
<text x="404.35" y="229.65" font-family='"Liberation Serif", serif' font-size="4.95" fill="#ffffff" text-anchor="start" >0</text>
<text x="404.19" y="234.17" font-family='"Liberation Serif", serif' font-size="5.43" fill="#ffffff" text-anchor="start" textLength="12.39" lengthAdjust="spacingAndGlyphs" >close</text>
<text x="416.96" y="232.42" font-family='"Liberation Serif", serif' font-size="9.48" fill="#ffffff" text-anchor="start" textLength="3.70" lengthAdjust="spacingAndGlyphs" >/</text>
<text x="421.48" y="232.10" font-family='"Liberation Serif", serif' font-size="8.78" fill="#ffffff" text-anchor="start" font-style="italic" textLength="4.62" lengthAdjust="spacingAndGlyphs" >k</text>
<text x="426.75" y="229.65" font-family='"Liberation Serif", serif' font-size="4.95" fill="#ffffff" text-anchor="start" >0</text>
<text x="426.37" y="234.17" font-family='"Liberation Serif", serif' font-size="5.43" fill="#ffffff" text-anchor="start" textLength="12.18" lengthAdjust="spacingAndGlyphs" >grow</text>
<text x="439.36" y="232.10" font-family='"Liberation Serif", serif' font-size="8.78" fill="#ffffff" text-anchor="start" >)</text>
</g>
<g transform="translate(357.3,194.5) rotate(-90)">
<g stroke="#fff" stroke-width="0.3">
<text x="0.00" y="0.00" font-family='"Liberation Serif", serif' font-size="9.90" fill="#ffffff" text-anchor="start" font-style="italic" textLength="6.61" lengthAdjust="spacingAndGlyphs" >B</text>
<text x="7.32" y="0.00" font-family='"Liberation Serif", serif' font-size="9.90" fill="#ffffff" text-anchor="start" >(</text>
<text x="12.48" y="0.00" font-family='"Liberation Serif", serif' font-size="9.90" fill="#ffffff" text-anchor="start" font-style="italic" textLength="4.11" lengthAdjust="spacingAndGlyphs" >k</text>
<text x="16.98" y="1.80" font-family='"Liberation Serif", serif' font-size="6.60" fill="#ffffff" text-anchor="start" textLength="4.44" lengthAdjust="spacingAndGlyphs" >B</text>
<text x="22.56" y="0.00" font-family='"Liberation Serif", serif' font-size="9.90" fill="#ffffff" text-anchor="start" font-style="italic" textLength="6.16" lengthAdjust="spacingAndGlyphs" >T</text>
<text x="30.72" y="0.00" font-family='"Liberation Serif", serif' font-size="9.90" fill="#ffffff" text-anchor="start" >)</text>
</g>
</g>
<text x="236.90" y="37.80" font-family='"Liberation Sans", sans-serif' font-size="10.30" fill="#262626" text-anchor="start" textLength="17.61" lengthAdjust="spacingAndGlyphs" >100</text>
<text x="243.10" y="78.80" font-family='"Liberation Sans", sans-serif' font-size="10.30" fill="#262626" text-anchor="start" textLength="11.40" lengthAdjust="spacingAndGlyphs" >80</text>
<text x="243.10" y="119.80" font-family='"Liberation Sans", sans-serif' font-size="10.30" fill="#262626" text-anchor="start" textLength="11.40" lengthAdjust="spacingAndGlyphs" >60</text>
<text x="243.10" y="160.80" font-family='"Liberation Sans", sans-serif' font-size="10.30" fill="#262626" text-anchor="start" textLength="11.40" lengthAdjust="spacingAndGlyphs" >40</text>
<text x="243.10" y="201.80" font-family='"Liberation Sans", sans-serif' font-size="10.30" fill="#262626" text-anchor="start" textLength="11.40" lengthAdjust="spacingAndGlyphs" >20</text>
<text x="248.78" y="241.60" font-family='"Liberation Sans", sans-serif' font-size="10.30" fill="#262626" text-anchor="start" >0</text>
<text x="248.75" y="251.10" font-family='"Liberation Sans", sans-serif' font-size="10.30" fill="#262626" text-anchor="start" textLength="20.51" lengthAdjust="spacingAndGlyphs" >-1.0</text>
<text x="298.60" y="251.10" font-family='"Liberation Sans", sans-serif' font-size="10.30" fill="#262626" text-anchor="start" textLength="20.01" lengthAdjust="spacingAndGlyphs" >-0.5</text>
<text x="354.44" y="251.10" font-family='"Liberation Sans", sans-serif' font-size="10.30" fill="#262626" text-anchor="start" >0</text>
<text x="399.80" y="251.10" font-family='"Liberation Sans", sans-serif' font-size="10.30" fill="#262626" text-anchor="start" textLength="16.20" lengthAdjust="spacingAndGlyphs" >0.5</text>
<text x="448.15" y="251.10" font-family='"Liberation Sans", sans-serif' font-size="10.30" fill="#262626" text-anchor="start" textLength="15.30" lengthAdjust="spacingAndGlyphs" >1.0</text>
<text x="303.80" y="268.80" font-family='"Liberation Serif", serif' font-size="16.50" fill="#383838" text-anchor="start" textLength="26.81" lengthAdjust="spacingAndGlyphs" >log(</text>
<text x="331.40" y="268.80" font-family='"Liberation Serif", serif' font-size="16.50" fill="#383838" text-anchor="start" font-style="italic" textLength="8.68" lengthAdjust="spacingAndGlyphs" >k</text>
<text x="341.30" y="264.20" font-family='"Liberation Serif", serif' font-size="9.30" fill="#383838" text-anchor="start" >0</text>
<text x="341.00" y="272.70" font-family='"Liberation Serif", serif' font-size="10.20" fill="#383838" text-anchor="start" textLength="23.30" lengthAdjust="spacingAndGlyphs" >close</text>
<text x="365.00" y="269.40" font-family='"Liberation Serif", serif' font-size="17.82" fill="#383838" text-anchor="start" textLength="6.95" lengthAdjust="spacingAndGlyphs" >/</text>
<text x="373.50" y="268.80" font-family='"Liberation Serif", serif' font-size="16.50" fill="#383838" text-anchor="start" font-style="italic" textLength="8.68" lengthAdjust="spacingAndGlyphs" >k</text>
<text x="383.40" y="264.20" font-family='"Liberation Serif", serif' font-size="9.30" fill="#383838" text-anchor="start" >0</text>
<text x="382.70" y="272.70" font-family='"Liberation Serif", serif' font-size="10.20" fill="#383838" text-anchor="start" textLength="22.90" lengthAdjust="spacingAndGlyphs" >grow</text>
<text x="407.10" y="268.80" font-family='"Liberation Serif", serif' font-size="16.50" fill="#383838" text-anchor="start" >)</text>
<g transform="translate(232.0,163.0) rotate(-90)">
<text x="0.00" y="0.00" font-family='"Liberation Serif", serif' font-size="16.50" fill="#383838" text-anchor="start" font-style="italic" textLength="11.02" lengthAdjust="spacingAndGlyphs" >B</text>
<text x="12.20" y="0.00" font-family='"Liberation Serif", serif' font-size="16.50" fill="#383838" text-anchor="start" >(</text>
<text x="20.80" y="0.00" font-family='"Liberation Serif", serif' font-size="16.50" fill="#383838" text-anchor="start" font-style="italic" textLength="6.85" lengthAdjust="spacingAndGlyphs" >k</text>
<text x="28.30" y="3.00" font-family='"Liberation Serif", serif' font-size="11.00" fill="#383838" text-anchor="start" textLength="7.39" lengthAdjust="spacingAndGlyphs" >B</text>
<text x="37.60" y="0.00" font-family='"Liberation Serif", serif' font-size="16.50" fill="#383838" text-anchor="start" font-style="italic" textLength="10.27" lengthAdjust="spacingAndGlyphs" >T</text>
<text x="51.20" y="0.00" font-family='"Liberation Serif", serif' font-size="16.50" fill="#383838" text-anchor="start" >)</text>
</g>
<defs><linearGradient id="gcb" x1="0" y1="1" x2="0" y2="0"><stop offset="0.000" stop-color="#3e26a8"/><stop offset="0.100" stop-color="#4746eb"/><stop offset="0.200" stop-color="#3e6ef8"/><stop offset="0.300" stop-color="#2d8df0"/><stop offset="0.400" stop-color="#1aa8dc"/><stop offset="0.500" stop-color="#1ebcc0"/><stop offset="0.600" stop-color="#43c79a"/><stop offset="0.700" stop-color="#8ccb6a"/><stop offset="0.800" stop-color="#dcbd3a"/><stop offset="0.850" stop-color="#fcb93c"/><stop offset="0.900" stop-color="#fbd02d"/><stop offset="1.000" stop-color="#f9fb14"/></linearGradient></defs>
<rect x="471.70" y="31.90" width="11.10" height="206.20" fill="url(#gcb)" stroke="#333" stroke-width="0.90" />
<line x1="480.60" y1="238.10" x2="482.80" y2="238.10" stroke="#222" stroke-width="0.80" />
<text x="488.00" y="243.00" font-family='"Liberation Sans", sans-serif' font-size="10.30" fill="#262626" text-anchor="start" textLength="15.50" lengthAdjust="spacingAndGlyphs" >0.0</text>
<line x1="480.60" y1="196.86" x2="482.80" y2="196.86" stroke="#222" stroke-width="0.80" />
<text x="488.00" y="201.76" font-family='"Liberation Sans", sans-serif' font-size="10.30" fill="#262626" text-anchor="start" textLength="15.50" lengthAdjust="spacingAndGlyphs" >0.2</text>
<line x1="480.60" y1="155.62" x2="482.80" y2="155.62" stroke="#222" stroke-width="0.80" />
<text x="488.00" y="160.52" font-family='"Liberation Sans", sans-serif' font-size="10.30" fill="#262626" text-anchor="start" textLength="15.50" lengthAdjust="spacingAndGlyphs" >0.4</text>
<line x1="480.60" y1="114.38" x2="482.80" y2="114.38" stroke="#222" stroke-width="0.80" />
<text x="488.00" y="119.28" font-family='"Liberation Sans", sans-serif' font-size="10.30" fill="#262626" text-anchor="start" textLength="15.50" lengthAdjust="spacingAndGlyphs" >0.6</text>
<line x1="480.60" y1="73.14" x2="482.80" y2="73.14" stroke="#222" stroke-width="0.80" />
<text x="488.00" y="78.04" font-family='"Liberation Sans", sans-serif' font-size="10.30" fill="#262626" text-anchor="start" textLength="15.50" lengthAdjust="spacingAndGlyphs" >0.8</text>
<line x1="480.60" y1="31.90" x2="482.80" y2="31.90" stroke="#222" stroke-width="0.80" />
<text x="488.00" y="36.80" font-family='"Liberation Sans", sans-serif' font-size="10.30" fill="#262626" text-anchor="start" textLength="15.50" lengthAdjust="spacingAndGlyphs" >1.0</text>
<text x="463.40" y="11.20" font-family='"Liberation Sans", sans-serif' font-size="10.30" fill="#262626" text-anchor="start" textLength="35.78" lengthAdjust="spacingAndGlyphs" >Yield of</text>
<text x="466.45" y="22.90" font-family='"Liberation Sans", sans-serif' font-size="10.30" fill="#262626" text-anchor="start" textLength="29.70" lengthAdjust="spacingAndGlyphs" >target</text>
<text x="514.20" y="16.10" font-family='"Liberation Sans", sans-serif' font-size="19.50" fill="#262626" text-anchor="start" >C</text>
<defs><clipPath id="clipCT"><rect x="565.80" y="22.90" width="208.10" height="88.70"/></clipPath><clipPath id="clipCB"><rect x="565.80" y="158.10" width="208.10" height="85.20"/></clipPath></defs>
<g clip-path="url(#clipCT)">
<path d="M565.80,31.00 C574.33,31.00 603.03,30.78 617.00,31.00 C630.97,31.22 640.77,31.97 649.60,32.30 C658.43,32.63 663.27,32.73 670.00,33.00 C676.73,33.27 684.28,33.57 690.00,33.90 C695.72,34.23 699.52,34.45 704.30,35.00 C709.08,35.55 713.92,36.40 718.70,37.20 C723.48,38.00 728.23,38.90 733.00,39.80 C737.77,40.70 742.53,41.60 747.30,42.60 C752.07,43.60 757.17,44.72 761.60,45.80 C766.03,46.88 771.85,48.55 773.90,49.10" fill="none" stroke="#111" stroke-width="1.10" stroke-linejoin="round" />
<path d="M565.80,31.70 C569.83,31.95 582.00,32.47 590.00,33.20 C598.00,33.93 607.13,35.10 613.80,36.10 C620.47,37.10 624.03,37.97 630.00,39.20 C635.97,40.43 643.35,41.62 649.60,43.50 C655.85,45.38 661.53,48.12 667.50,50.50 C673.47,52.88 679.98,55.42 685.40,57.80 C690.82,60.18 695.07,62.38 700.00,64.80 C704.93,67.22 710.50,69.85 715.00,72.30 C719.50,74.75 722.83,76.97 727.00,79.50 C731.17,82.03 735.67,84.87 740.00,87.50 C744.33,90.13 749.17,93.22 753.00,95.30 C756.83,97.38 759.52,98.72 763.00,100.00 C766.48,101.28 772.08,102.50 773.90,103.00" fill="none" stroke="#1a1aff" stroke-width="1.10" stroke-linejoin="round" />
<path d="M565.80,36.00 C567.82,36.83 572.90,38.67 577.90,41.00 C582.90,43.33 589.82,46.93 595.80,50.00 C601.78,53.07 607.82,56.03 613.80,59.40 C619.78,62.77 625.73,66.43 631.70,70.20 C637.67,73.97 644.82,78.78 649.60,82.00 C654.38,85.22 656.22,86.70 660.40,89.50 C664.58,92.30 670.23,95.95 674.70,98.80 C679.17,101.65 683.48,104.30 687.20,106.60 C690.92,108.90 694.03,110.70 697.00,112.60 C699.97,114.50 703.67,117.10 705.00,118.00" fill="none" stroke="#ff1a1a" stroke-width="1.10" stroke-linejoin="round" />
</g>
<rect x="565.80" y="22.90" width="208.10" height="88.70" fill="none" stroke="#7a7a7a" stroke-width="1.20" />
<line x1="617.82" y1="22.90" x2="617.82" y2="24.90" stroke="#444" stroke-width="0.80" />
<line x1="617.82" y1="111.60" x2="617.82" y2="109.60" stroke="#444" stroke-width="0.80" />
<line x1="669.85" y1="22.90" x2="669.85" y2="24.90" stroke="#444" stroke-width="0.80" />
<line x1="669.85" y1="111.60" x2="669.85" y2="109.60" stroke="#444" stroke-width="0.80" />
<line x1="721.88" y1="22.90" x2="721.88" y2="24.90" stroke="#444" stroke-width="0.80" />
<line x1="721.88" y1="111.60" x2="721.88" y2="109.60" stroke="#444" stroke-width="0.80" />
<line x1="565.80" y1="31.00" x2="567.80" y2="31.00" stroke="#444" stroke-width="0.80" />
<line x1="773.90" y1="31.00" x2="771.90" y2="31.00" stroke="#444" stroke-width="0.80" />
<line x1="565.80" y1="71.30" x2="567.80" y2="71.30" stroke="#444" stroke-width="0.80" />
<line x1="773.90" y1="71.30" x2="771.90" y2="71.30" stroke="#444" stroke-width="0.80" />
<text x="540.20" y="35.80" font-family='"Liberation Sans", sans-serif' font-size="10.30" fill="#262626" text-anchor="start" textLength="21.69" lengthAdjust="spacingAndGlyphs" >1.00</text>
<text x="540.20" y="75.40" font-family='"Liberation Sans", sans-serif' font-size="10.30" fill="#262626" text-anchor="start" textLength="21.69" lengthAdjust="spacingAndGlyphs" >0.95</text>
<text x="540.20" y="114.90" font-family='"Liberation Sans", sans-serif' font-size="10.30" fill="#262626" text-anchor="start" textLength="21.69" lengthAdjust="spacingAndGlyphs" >0.90</text>
<text x="552.50" y="125.60" font-family='"Liberation Sans", sans-serif' font-size="10.30" fill="#262626" text-anchor="start" textLength="19.41" lengthAdjust="spacingAndGlyphs" >-1.0</text>
<text x="608.00" y="125.60" font-family='"Liberation Sans", sans-serif' font-size="10.30" fill="#262626" text-anchor="start" textLength="20.41" lengthAdjust="spacingAndGlyphs" >-0.5</text>
<text x="667.74" y="125.60" font-family='"Liberation Sans", sans-serif' font-size="10.30" fill="#262626" text-anchor="start" >0</text>
<text x="716.70" y="125.60" font-family='"Liberation Sans", sans-serif' font-size="10.30" fill="#262626" text-anchor="start" textLength="15.20" lengthAdjust="spacingAndGlyphs" >0.5</text>
<text x="768.15" y="125.60" font-family='"Liberation Sans", sans-serif' font-size="10.30" fill="#262626" text-anchor="start" textLength="15.50" lengthAdjust="spacingAndGlyphs" >1.0</text>
<text x="614.00" y="141.90" font-family='"Liberation Serif", serif' font-size="16.50" fill="#383838" text-anchor="start" textLength="26.81" lengthAdjust="spacingAndGlyphs" >log(</text>
<text x="641.60" y="141.90" font-family='"Liberation Serif", serif' font-size="16.50" fill="#383838" text-anchor="start" font-style="italic" textLength="8.68" lengthAdjust="spacingAndGlyphs" >k</text>
<text x="651.50" y="137.30" font-family='"Liberation Serif", serif' font-size="9.30" fill="#383838" text-anchor="start" >0</text>
<text x="651.20" y="145.80" font-family='"Liberation Serif", serif' font-size="10.20" fill="#383838" text-anchor="start" textLength="23.30" lengthAdjust="spacingAndGlyphs" >close</text>
<text x="675.20" y="142.50" font-family='"Liberation Serif", serif' font-size="17.82" fill="#383838" text-anchor="start" textLength="6.95" lengthAdjust="spacingAndGlyphs" >/</text>
<text x="683.70" y="141.90" font-family='"Liberation Serif", serif' font-size="16.50" fill="#383838" text-anchor="start" font-style="italic" textLength="8.68" lengthAdjust="spacingAndGlyphs" >k</text>
<text x="693.60" y="137.30" font-family='"Liberation Serif", serif' font-size="9.30" fill="#383838" text-anchor="start" >0</text>
<text x="692.90" y="145.80" font-family='"Liberation Serif", serif' font-size="10.20" fill="#383838" text-anchor="start" textLength="22.90" lengthAdjust="spacingAndGlyphs" >grow</text>
<text x="717.30" y="141.90" font-family='"Liberation Serif", serif' font-size="16.50" fill="#383838" text-anchor="start" >)</text>
<g transform="translate(705.30,32.20) rotate(7.20)">
<text x="0.00" y="0.00" font-family='"Liberation Serif", serif' font-size="12.00" fill="#111" text-anchor="start" font-style="italic" >B</text>
<text x="12.70" y="0.00" font-family='"Liberation Sans", sans-serif' font-size="10.50" fill="#111" text-anchor="start" >=</text>
<text x="24.50" y="0.00" font-family='"Liberation Sans", sans-serif' font-size="10.00" fill="#111" text-anchor="start" textLength="18.01" lengthAdjust="spacingAndGlyphs" >100</text>
<text x="44.90" y="0.00" font-family='"Liberation Serif", serif' font-size="12.00" fill="#111" text-anchor="start" font-style="italic" >k</text>
<text x="51.50" y="2.00" font-family='"Liberation Serif", serif' font-size="8.00" fill="#111" text-anchor="start" >B</text>
<text x="58.10" y="0.00" font-family='"Liberation Serif", serif' font-size="12.00" fill="#111" text-anchor="start" font-style="italic" >T</text>
</g>
<g transform="translate(679.00,48.60) rotate(24.00)">
<text x="0.00" y="0.00" font-family='"Liberation Serif", serif' font-size="12.00" fill="#1a1aff" text-anchor="start" font-style="italic" >B</text>
<text x="12.70" y="0.00" font-family='"Liberation Sans", sans-serif' font-size="10.50" fill="#1a1aff" text-anchor="start" >=</text>
<text x="24.50" y="0.00" font-family='"Liberation Sans", sans-serif' font-size="10.00" fill="#1a1aff" text-anchor="start" textLength="12.00" lengthAdjust="spacingAndGlyphs" >50</text>
<text x="38.90" y="0.00" font-family='"Liberation Serif", serif' font-size="12.00" fill="#1a1aff" text-anchor="start" font-style="italic" >k</text>
<text x="45.50" y="2.00" font-family='"Liberation Serif", serif' font-size="8.00" fill="#1a1aff" text-anchor="start" >B</text>
<text x="52.10" y="0.00" font-family='"Liberation Serif", serif' font-size="12.00" fill="#1a1aff" text-anchor="start" font-style="italic" >T</text>
</g>
<g transform="translate(620.60,57.60) rotate(29.00)">
<text x="0.00" y="0.00" font-family='"Liberation Serif", serif' font-size="12.00" fill="#ff1a1a" text-anchor="start" font-style="italic" >B</text>
<text x="12.70" y="0.00" font-family='"Liberation Sans", sans-serif' font-size="10.50" fill="#ff1a1a" text-anchor="start" >=</text>
<text x="24.50" y="0.00" font-family='"Liberation Sans", sans-serif' font-size="10.00" fill="#ff1a1a" text-anchor="start" textLength="12.00" lengthAdjust="spacingAndGlyphs" >20</text>
<text x="38.90" y="0.00" font-family='"Liberation Serif", serif' font-size="12.00" fill="#ff1a1a" text-anchor="start" font-style="italic" >k</text>
<text x="45.50" y="2.00" font-family='"Liberation Serif", serif' font-size="8.00" fill="#ff1a1a" text-anchor="start" >B</text>
<text x="52.10" y="0.00" font-family='"Liberation Serif", serif' font-size="12.00" fill="#ff1a1a" text-anchor="start" font-style="italic" >T</text>
</g>
<g transform="translate(532.0,67.5) rotate(-90)">
<text x="-19.97" y="0.00" font-family='"Liberation Serif", serif' font-size="15.60" fill="#262626" text-anchor="start" font-style="italic" textLength="13.36" lengthAdjust="spacingAndGlyphs" >D</text>
<line x1="-16.80" y1="-13.00" x2="-7.80" y2="-13.00" stroke="#262626" stroke-width="0.90" />
<text x="-6.80" y="0.00" font-family='"Liberation Serif", serif' font-size="15.60" fill="#262626" text-anchor="start" textLength="6.45" lengthAdjust="spacingAndGlyphs" >/</text>
<text x="2.22" y="0.00" font-family='"Liberation Serif", serif' font-size="15.60" fill="#262626" text-anchor="start" font-style="italic" textLength="12.77" lengthAdjust="spacingAndGlyphs" >D</text>
<text x="14.70" y="2.60" font-family='"Liberation Serif", serif' font-size="10.40" fill="#262626" text-anchor="start" >0</text>
</g>
<g clip-path="url(#clipCB)">
<path d="M565.80,158.10 C568.42,159.43 576.37,163.58 581.50,166.10 C586.63,168.62 591.85,171.17 596.60,173.20 C601.35,175.23 605.35,176.78 610.00,178.30 C614.65,179.82 618.67,180.88 624.50,182.30 C630.33,183.72 639.08,185.55 645.00,186.80 C650.92,188.05 654.82,188.65 660.00,189.80 C665.18,190.95 670.72,192.35 676.10,193.70 C681.48,195.05 687.45,196.62 692.30,197.90 C697.15,199.18 701.45,200.68 705.20,201.40 C708.95,202.12 711.05,202.28 714.80,202.20 C718.55,202.12 723.93,201.17 727.70,200.90 C731.47,200.63 734.17,200.30 737.40,200.60 C740.63,200.90 743.87,201.43 747.10,202.70 C750.33,203.97 753.57,205.93 756.80,208.20 C760.03,210.47 763.65,213.57 766.50,216.30 C769.35,219.03 771.65,221.82 773.90,224.60 C776.15,227.38 778.98,231.60 780.00,233.00" fill="none" stroke="#111" stroke-width="1.10" stroke-linejoin="round" />
<path d="M565.80,164.00 C568.42,164.72 576.37,166.87 581.50,168.30 C586.63,169.73 589.43,170.82 596.60,172.60 C603.77,174.38 613.93,176.80 624.50,179.00 C635.07,181.20 648.70,183.47 660.00,185.80 C671.30,188.13 681.55,190.62 692.30,193.00 C703.05,195.38 716.45,197.83 724.50,200.10 C732.55,202.37 735.22,203.82 740.60,206.60 C745.98,209.38 752.57,213.77 756.80,216.80 C761.03,219.83 763.15,222.17 766.00,224.80 C768.85,227.43 771.57,230.23 773.90,232.60 C776.23,234.97 778.98,237.93 780.00,239.00" fill="none" stroke="#1a1aff" stroke-width="1.10" stroke-linejoin="round" />
<path d="M565.80,162.90 C568.42,163.62 571.72,165.30 581.50,167.20 C591.28,169.10 611.42,171.80 624.50,174.30 C637.58,176.80 648.70,179.50 660.00,182.20 C671.30,184.90 681.55,187.65 692.30,190.50 C703.05,193.35 716.45,196.65 724.50,199.30 C732.55,201.95 735.22,203.35 740.60,206.40 C745.98,209.45 752.57,214.33 756.80,217.60 C761.03,220.87 763.15,223.23 766.00,226.00 C768.85,228.77 771.57,231.70 773.90,234.20 C776.23,236.70 778.98,239.87 780.00,241.00" fill="none" stroke="#ff1a1a" stroke-width="1.10" stroke-linejoin="round" />
</g>
<rect x="565.80" y="158.10" width="208.10" height="85.20" fill="none" stroke="#7a7a7a" stroke-width="1.20" />
<line x1="597.12" y1="243.30" x2="597.12" y2="241.90" stroke="#444" stroke-width="0.80" />
<line x1="597.12" y1="158.10" x2="597.12" y2="159.50" stroke="#444" stroke-width="0.80" />
<line x1="615.44" y1="243.30" x2="615.44" y2="241.90" stroke="#444" stroke-width="0.80" />
<line x1="615.44" y1="158.10" x2="615.44" y2="159.50" stroke="#444" stroke-width="0.80" />
<line x1="628.44" y1="243.30" x2="628.44" y2="241.90" stroke="#444" stroke-width="0.80" />
<line x1="628.44" y1="158.10" x2="628.44" y2="159.50" stroke="#444" stroke-width="0.80" />
<line x1="638.53" y1="243.30" x2="638.53" y2="241.90" stroke="#444" stroke-width="0.80" />
<line x1="638.53" y1="158.10" x2="638.53" y2="159.50" stroke="#444" stroke-width="0.80" />
<line x1="646.77" y1="243.30" x2="646.77" y2="241.90" stroke="#444" stroke-width="0.80" />
<line x1="646.77" y1="158.10" x2="646.77" y2="159.50" stroke="#444" stroke-width="0.80" />
<line x1="653.73" y1="243.30" x2="653.73" y2="241.90" stroke="#444" stroke-width="0.80" />
<line x1="653.73" y1="158.10" x2="653.73" y2="159.50" stroke="#444" stroke-width="0.80" />
<line x1="659.77" y1="243.30" x2="659.77" y2="241.90" stroke="#444" stroke-width="0.80" />
<line x1="659.77" y1="158.10" x2="659.77" y2="159.50" stroke="#444" stroke-width="0.80" />
<line x1="665.09" y1="243.30" x2="665.09" y2="241.90" stroke="#444" stroke-width="0.80" />
<line x1="665.09" y1="158.10" x2="665.09" y2="159.50" stroke="#444" stroke-width="0.80" />
<line x1="669.85" y1="243.30" x2="669.85" y2="240.90" stroke="#444" stroke-width="0.80" />
<line x1="669.85" y1="158.10" x2="669.85" y2="160.50" stroke="#444" stroke-width="0.80" />
<line x1="701.17" y1="243.30" x2="701.17" y2="241.90" stroke="#444" stroke-width="0.80" />
<line x1="701.17" y1="158.10" x2="701.17" y2="159.50" stroke="#444" stroke-width="0.80" />
<line x1="719.49" y1="243.30" x2="719.49" y2="241.90" stroke="#444" stroke-width="0.80" />
<line x1="719.49" y1="158.10" x2="719.49" y2="159.50" stroke="#444" stroke-width="0.80" />
<line x1="732.49" y1="243.30" x2="732.49" y2="241.90" stroke="#444" stroke-width="0.80" />
<line x1="732.49" y1="158.10" x2="732.49" y2="159.50" stroke="#444" stroke-width="0.80" />
<line x1="742.58" y1="243.30" x2="742.58" y2="241.90" stroke="#444" stroke-width="0.80" />
<line x1="742.58" y1="158.10" x2="742.58" y2="159.50" stroke="#444" stroke-width="0.80" />
<line x1="750.82" y1="243.30" x2="750.82" y2="241.90" stroke="#444" stroke-width="0.80" />
<line x1="750.82" y1="158.10" x2="750.82" y2="159.50" stroke="#444" stroke-width="0.80" />
<line x1="757.78" y1="243.30" x2="757.78" y2="241.90" stroke="#444" stroke-width="0.80" />
<line x1="757.78" y1="158.10" x2="757.78" y2="159.50" stroke="#444" stroke-width="0.80" />
<line x1="763.82" y1="243.30" x2="763.82" y2="241.90" stroke="#444" stroke-width="0.80" />
<line x1="763.82" y1="158.10" x2="763.82" y2="159.50" stroke="#444" stroke-width="0.80" />
<line x1="769.14" y1="243.30" x2="769.14" y2="241.90" stroke="#444" stroke-width="0.80" />
<line x1="769.14" y1="158.10" x2="769.14" y2="159.50" stroke="#444" stroke-width="0.80" />
<line x1="565.80" y1="225.21" x2="567.20" y2="225.21" stroke="#444" stroke-width="0.80" />
<line x1="773.90" y1="225.21" x2="772.50" y2="225.21" stroke="#444" stroke-width="0.80" />
<line x1="565.80" y1="214.63" x2="567.20" y2="214.63" stroke="#444" stroke-width="0.80" />
<line x1="773.90" y1="214.63" x2="772.50" y2="214.63" stroke="#444" stroke-width="0.80" />
<line x1="565.80" y1="207.12" x2="567.20" y2="207.12" stroke="#444" stroke-width="0.80" />
<line x1="773.90" y1="207.12" x2="772.50" y2="207.12" stroke="#444" stroke-width="0.80" />
<line x1="565.80" y1="201.29" x2="567.20" y2="201.29" stroke="#444" stroke-width="0.80" />
<line x1="773.90" y1="201.29" x2="772.50" y2="201.29" stroke="#444" stroke-width="0.80" />
<line x1="565.80" y1="196.53" x2="567.20" y2="196.53" stroke="#444" stroke-width="0.80" />
<line x1="773.90" y1="196.53" x2="772.50" y2="196.53" stroke="#444" stroke-width="0.80" />
<line x1="565.80" y1="192.51" x2="567.20" y2="192.51" stroke="#444" stroke-width="0.80" />
<line x1="773.90" y1="192.51" x2="772.50" y2="192.51" stroke="#444" stroke-width="0.80" />
<line x1="565.80" y1="189.02" x2="567.20" y2="189.02" stroke="#444" stroke-width="0.80" />
<line x1="773.90" y1="189.02" x2="772.50" y2="189.02" stroke="#444" stroke-width="0.80" />
<line x1="565.80" y1="185.95" x2="567.20" y2="185.95" stroke="#444" stroke-width="0.80" />
<line x1="773.90" y1="185.95" x2="772.50" y2="185.95" stroke="#444" stroke-width="0.80" />
<line x1="565.80" y1="183.20" x2="568.20" y2="183.20" stroke="#444" stroke-width="0.80" />
<line x1="773.90" y1="183.20" x2="771.50" y2="183.20" stroke="#444" stroke-width="0.80" />
<line x1="565.80" y1="165.11" x2="567.20" y2="165.11" stroke="#444" stroke-width="0.80" />
<line x1="773.90" y1="165.11" x2="772.50" y2="165.11" stroke="#444" stroke-width="0.80" />
<text x="541.80" y="187.80" font-family='"Liberation Sans", sans-serif' font-size="11.00" fill="#262626" text-anchor="start" textLength="11.40" lengthAdjust="spacingAndGlyphs" >10</text>
<text x="554.00" y="183.40" font-family='"Liberation Sans", sans-serif' font-size="7.80" fill="#262626" text-anchor="start" textLength="5.99" lengthAdjust="spacingAndGlyphs" >-1</text>
<text x="541.80" y="245.30" font-family='"Liberation Sans", sans-serif' font-size="11.00" fill="#262626" text-anchor="start" textLength="11.40" lengthAdjust="spacingAndGlyphs" >10</text>
<text x="554.00" y="240.90" font-family='"Liberation Sans", sans-serif' font-size="7.80" fill="#262626" text-anchor="start" textLength="5.99" lengthAdjust="spacingAndGlyphs" >-2</text>
<text x="559.20" y="257.40" font-family='"Liberation Sans", sans-serif' font-size="11.00" fill="#262626" text-anchor="start" textLength="11.20" lengthAdjust="spacingAndGlyphs" >10</text>
<text x="571.80" y="253.00" font-family='"Liberation Sans", sans-serif' font-size="7.80" fill="#262626" text-anchor="start" >0</text>
<text x="663.00" y="257.40" font-family='"Liberation Sans", sans-serif' font-size="11.00" fill="#262626" text-anchor="start" textLength="11.20" lengthAdjust="spacingAndGlyphs" >10</text>
<text x="675.60" y="253.00" font-family='"Liberation Sans", sans-serif' font-size="7.80" fill="#262626" text-anchor="start" >1</text>
<text x="765.00" y="257.40" font-family='"Liberation Sans", sans-serif' font-size="11.00" fill="#262626" text-anchor="start" textLength="11.20" lengthAdjust="spacingAndGlyphs" >10</text>
<text x="777.60" y="253.00" font-family='"Liberation Sans", sans-serif' font-size="7.80" fill="#262626" text-anchor="start" >2</text>
<path d="M662.20,174.40 L713.80,174.40 L713.80,189.00 Z" fill="none" stroke="#111" stroke-width="1.00" stroke-linejoin="round" />
<text x="688.84" y="171.80" font-family='"Liberation Sans", sans-serif' font-size="10.30" fill="#262626" text-anchor="start" >2</text>
<text x="716.94" y="185.10" font-family='"Liberation Sans", sans-serif' font-size="10.30" fill="#262626" text-anchor="start" >1</text>
<line x1="573.00" y1="204.30" x2="586.10" y2="204.30" stroke="#111" stroke-width="1.10" />
<text x="590.60" y="206.60" font-family='"Liberation Serif", serif' font-size="10.00" fill="#333" text-anchor="start" font-style="italic" >k</text>
<text x="595.60" y="203.60" font-family='"Liberation Serif", serif' font-size="6.50" fill="#333" text-anchor="start" >0</text>
<text x="595.40" y="208.60" font-family='"Liberation Serif", serif' font-size="6.50" fill="#333" text-anchor="start" textLength="13.20" lengthAdjust="spacingAndGlyphs" >close</text>
<text x="608.60" y="206.60" font-family='"Liberation Serif", serif' font-size="10.00" fill="#333" text-anchor="start" >/</text>
<text x="613.50" y="206.60" font-family='"Liberation Serif", serif' font-size="10.00" fill="#333" text-anchor="start" font-style="italic" >k</text>
<text x="618.40" y="203.60" font-family='"Liberation Serif", serif' font-size="6.50" fill="#333" text-anchor="start" >0</text>
<text x="618.30" y="209.20" font-family='"Liberation Serif", serif' font-size="6.50" fill="#333" text-anchor="start" textLength="12.70" lengthAdjust="spacingAndGlyphs" >grow</text>
<text x="634.20" y="206.60" font-family='"Liberation Sans", sans-serif' font-size="10.00" fill="#333" text-anchor="start" >=</text>
<text x="645.40" y="207.10" font-family='"Liberation Sans", sans-serif' font-size="10.30" fill="#333" text-anchor="start" textLength="11.20" lengthAdjust="spacingAndGlyphs" >10</text>
<line x1="573.00" y1="217.20" x2="586.10" y2="217.20" stroke="#1a1aff" stroke-width="1.10" />
<text x="590.60" y="219.50" font-family='"Liberation Serif", serif' font-size="10.00" fill="#1a1aff" text-anchor="start" font-style="italic" >k</text>
<text x="595.60" y="216.50" font-family='"Liberation Serif", serif' font-size="6.50" fill="#1a1aff" text-anchor="start" >0</text>
<text x="595.40" y="221.50" font-family='"Liberation Serif", serif' font-size="6.50" fill="#1a1aff" text-anchor="start" textLength="13.20" lengthAdjust="spacingAndGlyphs" >close</text>
<text x="608.60" y="219.50" font-family='"Liberation Serif", serif' font-size="10.00" fill="#1a1aff" text-anchor="start" >/</text>
<text x="613.50" y="219.50" font-family='"Liberation Serif", serif' font-size="10.00" fill="#1a1aff" text-anchor="start" font-style="italic" >k</text>
<text x="618.40" y="216.50" font-family='"Liberation Serif", serif' font-size="6.50" fill="#1a1aff" text-anchor="start" >0</text>
<text x="618.30" y="222.10" font-family='"Liberation Serif", serif' font-size="6.50" fill="#1a1aff" text-anchor="start" textLength="12.70" lengthAdjust="spacingAndGlyphs" >grow</text>
<text x="634.20" y="219.50" font-family='"Liberation Sans", sans-serif' font-size="10.00" fill="#1a1aff" text-anchor="start" >=</text>
<text x="645.40" y="220.00" font-family='"Liberation Sans", sans-serif' font-size="10.30" fill="#1a1aff" text-anchor="start" textLength="16.50" lengthAdjust="spacingAndGlyphs" >2.5</text>
<line x1="573.00" y1="231.60" x2="586.10" y2="231.60" stroke="#ff1a1a" stroke-width="1.10" />
<text x="590.60" y="233.90" font-family='"Liberation Serif", serif' font-size="10.00" fill="#ff1a1a" text-anchor="start" font-style="italic" >k</text>
<text x="595.60" y="230.90" font-family='"Liberation Serif", serif' font-size="6.50" fill="#ff1a1a" text-anchor="start" >0</text>
<text x="595.40" y="235.90" font-family='"Liberation Serif", serif' font-size="6.50" fill="#ff1a1a" text-anchor="start" textLength="13.20" lengthAdjust="spacingAndGlyphs" >close</text>
<text x="608.60" y="233.90" font-family='"Liberation Serif", serif' font-size="10.00" fill="#ff1a1a" text-anchor="start" >/</text>
<text x="613.50" y="233.90" font-family='"Liberation Serif", serif' font-size="10.00" fill="#ff1a1a" text-anchor="start" font-style="italic" >k</text>
<text x="618.40" y="230.90" font-family='"Liberation Serif", serif' font-size="6.50" fill="#ff1a1a" text-anchor="start" >0</text>
<text x="618.30" y="236.50" font-family='"Liberation Serif", serif' font-size="6.50" fill="#ff1a1a" text-anchor="start" textLength="12.70" lengthAdjust="spacingAndGlyphs" >grow</text>
<text x="634.20" y="233.90" font-family='"Liberation Sans", sans-serif' font-size="10.00" fill="#ff1a1a" text-anchor="start" >=</text>
<text x="645.40" y="234.40" font-family='"Liberation Sans", sans-serif' font-size="10.30" fill="#ff1a1a" text-anchor="start" textLength="16.50" lengthAdjust="spacingAndGlyphs" >0.6</text>
<g transform="translate(533.0,203.6) rotate(-90)">
<text x="-23.60" y="0.00" font-family='"Liberation Serif", serif' font-size="15.60" fill="#262626" text-anchor="start" textLength="12.01" lengthAdjust="spacingAndGlyphs" >Δ</text>
<text x="-10.38" y="0.00" font-family='"Liberation Serif", serif' font-size="15.60" fill="#262626" text-anchor="start" font-style="italic" textLength="12.77" lengthAdjust="spacingAndGlyphs" >D</text>
<text x="1.50" y="0.00" font-family='"Liberation Serif", serif' font-size="15.60" fill="#262626" text-anchor="start" textLength="6.45" lengthAdjust="spacingAndGlyphs" >/</text>
<text x="11.71" y="0.00" font-family='"Liberation Serif", serif' font-size="15.60" fill="#262626" text-anchor="start" font-style="italic" textLength="11.89" lengthAdjust="spacingAndGlyphs" >D</text>
<line x1="15.00" y1="-13.40" x2="23.60" y2="-13.40" stroke="#262626" stroke-width="0.90" />
</g>
<text x="646.00" y="273.30" font-family='"Liberation Serif", serif' font-size="16.50" fill="#383838" text-anchor="start" font-style="italic" textLength="11.02" lengthAdjust="spacingAndGlyphs" >B</text>
<text x="658.20" y="273.30" font-family='"Liberation Serif", serif' font-size="16.50" fill="#383838" text-anchor="start" >(</text>
<text x="666.80" y="273.30" font-family='"Liberation Serif", serif' font-size="16.50" fill="#383838" text-anchor="start" font-style="italic" textLength="6.85" lengthAdjust="spacingAndGlyphs" >k</text>
<text x="674.30" y="276.30" font-family='"Liberation Serif", serif' font-size="11.00" fill="#383838" text-anchor="start" textLength="7.39" lengthAdjust="spacingAndGlyphs" >B</text>
<text x="683.60" y="273.30" font-family='"Liberation Serif", serif' font-size="16.50" fill="#383838" text-anchor="start" font-style="italic" textLength="10.27" lengthAdjust="spacingAndGlyphs" >T</text>
<text x="697.20" y="273.30" font-family='"Liberation Serif", serif' font-size="16.50" fill="#383838" text-anchor="start" >)</text>
</svg></body></html>
